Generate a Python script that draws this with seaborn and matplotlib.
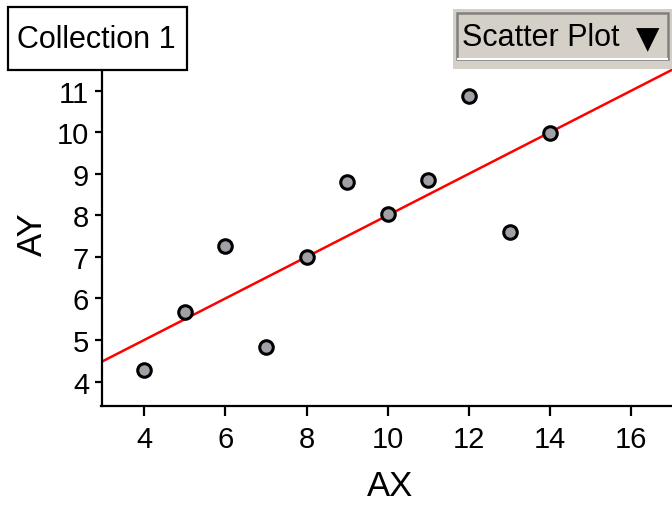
import numpy as np
import pandas as pd
import matplotlib
matplotlib.use("Agg")
import matplotlib.pyplot as plt
from matplotlib.patches import Rectangle
import seaborn as sns

# Data
AX = [4, 5, 6, 7, 8, 9, 10, 11, 12, 13, 14]
AY = [4.28, 5.67, 7.26, 4.83, 7.00, 8.80, 8.03, 8.85, 10.87, 7.60, 9.98]
LINE_INTERCEPT = 3.0
LINE_SLOPE = 0.5
X_TICKS = [4, 6, 8, 10, 12, 14, 16]
Y_TICKS = [4, 5, 6, 7, 8, 9, 10, 11]

df = pd.DataFrame({"AX": AX, "AY": AY})

sns.set_theme(style="ticks")
plt.rcParams.update({
    "font.family": ["Liberation Sans", "DejaVu Sans"],
    "axes.linewidth": 1.6,
    "xtick.major.width": 1.6,
    "ytick.major.width": 1.6,
    "xtick.color": "black",
    "ytick.color": "black",
    "xtick.labelcolor": "black",
    "ytick.labelcolor": "black",
    "axes.labelcolor": "black",
    "text.color": "black",
    "axes.edgecolor": "black",
})

fig = plt.figure(figsize=(6.72, 5.06), dpi=100)
W, H = 672, 506
ax = fig.add_axes([101.5 / W, (H - 406.7) / H, (W - 101.5) / W, (406.7 - 70) / H])

sns.scatterplot(data=df, x="AX", y="AY", s=95, color="#a0a0a6",
                edgecolor="black", linewidth=2.2, zorder=3, ax=ax)
ax.axline((0, LINE_INTERCEPT), slope=LINE_SLOPE, color="#ff0000",
          linewidth=1.8, zorder=2)

ax.set_xlim(2.95, 17.0)
ax.set_ylim(3.42, 11.52)
ax.set_xticks(X_TICKS)
ax.set_yticks(Y_TICKS)
ax.tick_params(axis="x", direction="out", length=7, labelsize=21, pad=7)
ax.tick_params(axis="y", direction="out", length=5, labelsize=21, pad=4)
for s in ["top", "right"]:
    ax.spines[s].set_visible(False)

ax.set_xlabel("AX", fontsize=25)
ax.set_ylabel("AY", fontsize=25)
ax.xaxis.set_label_coords((390 - 101.5) / 570.5, (406.7 - 487) / 336.7)
ax.xaxis.label.set_va("center")
ax.yaxis.set_label_coords((32 - 101.5) / 570.5, (406.7 - 234) / 336.7)
ax.yaxis.label.set_va("center")

# "Collection 1" title box
fig.patches.append(Rectangle((8 / W, (H - 71) / H), 179 / W, 63 / H,
                             transform=fig.transFigure, facecolor="white",
                             edgecolor="black", linewidth=1.6, zorder=5))
fig.text(96 / W, (H - 40) / H, "Collection 1", fontsize=22, ha="center",
         va="center", zorder=6)

# "Scatter Plot" menu button
fig.patches.append(Rectangle((453 / W, (H - 70) / H), 219 / W, 60 / H,
                             transform=fig.transFigure, facecolor="#d4d0c8",
                             edgecolor="none", zorder=5))
fig.patches.append(Rectangle((457 / W, (H - 60) / H), 211 / W, 46 / H,
                             transform=fig.transFigure, facecolor="#d4d0c8",
                             edgecolor="#808080", linewidth=1.8, zorder=6))
fig.patches.append(Rectangle((457 / W, (H - 61) / H), 211 / W, 2 / H,
                             transform=fig.transFigure, facecolor="white",
                             edgecolor="none", zorder=7))
fig.text(462 / W, (H - 38) / H, "Scatter Plot", fontsize=22, ha="left",
         va="center", zorder=7)
fig.text(648 / W, (H - 40) / H, "\u25bc", fontsize=22, ha="center",
         va="center", zorder=7, family="DejaVu Sans")

fig.savefig("out.png", dpi=100, facecolor="white")
